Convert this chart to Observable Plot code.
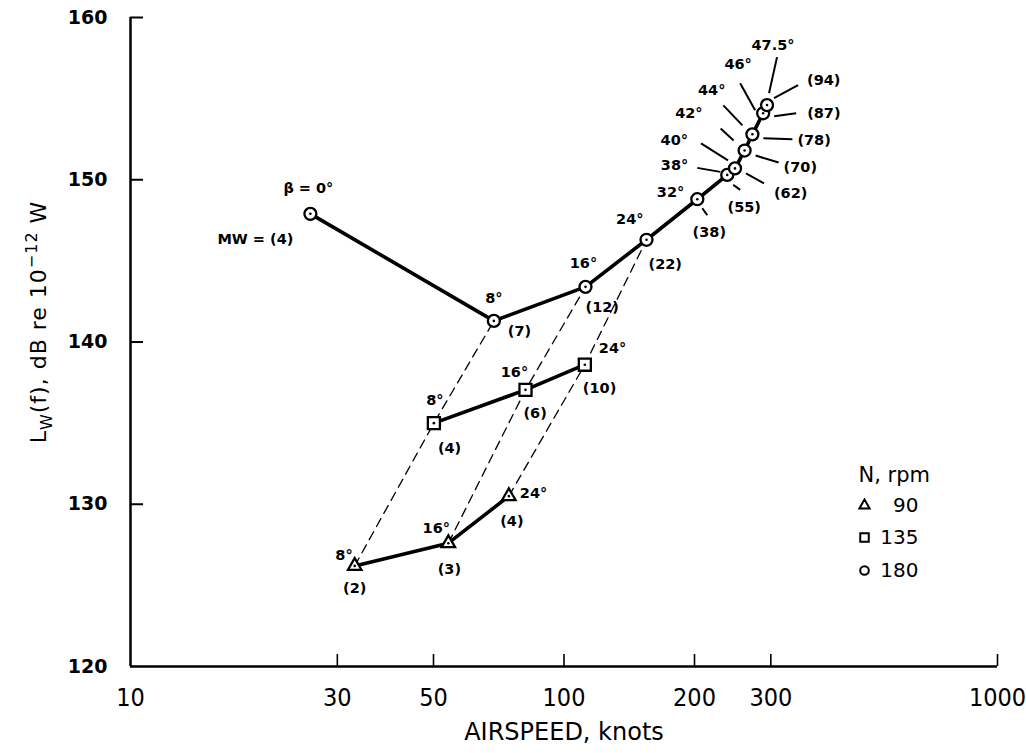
<!DOCTYPE html>
<html><head><meta charset="utf-8">
<script src="https://cdn.jsdelivr.net/npm/d3@7"></script>
<script src="https://cdn.jsdelivr.net/npm/@observablehq/plot@0.6"></script>
<style>
body{margin:0;background:#fff;}
#chart{position:relative;width:1026px;height:753px;}
</style>
</head><body><div id="chart"></div>
<script>
// ---------- data ----------
const circleAirspeed = [26.0, 68.9, 112.1, 155.0, 203, 238, 248, 261, 272, 288, 294];
const circleLw       = [147.9, 141.3, 143.4, 146.3, 148.8, 150.3, 150.7, 151.8, 152.8, 154.1, 154.6];
const circleBeta     = ["β = 0°","8°","16°","24°","32°","38°","40°","42°","44°","46°","47.5°"];
const circleMW       = ["MW = (4)","(7)","(12)","(22)","(38)","(55)","(62)","(70)","(78)","(87)","(94)"];

const squareAirspeed = [50.1, 81.5, 111.7];
const squareLw       = [135.0, 137.05, 138.6];
const squareBeta     = ["8°","16°","24°"];
const squareMW       = ["(4)","(6)","(10)"];

const triAirspeed = [32.9, 54.1, 74.6];
const triLw       = [126.2, 127.6, 130.5];
const triBeta     = ["8°","16°","24°"];
const triMW       = ["(2)","(3)","(4)"];

const rpmValues  = ["90","135","180"];
const xTicks = [10, 30, 50, 100, 200, 300, 1000];
const yTicks = [120, 130, 140, 150, 160];

// ---------- layout ----------
const W = 1026, H = 753, ML = 130, MR = 29, MT = 17, MB = 87;
const frameW = W - ML - MR, frameH = H - MT - MB;

// label offsets in pixels: [dx, dy, anchor]
const circleBetaOff = [[-2,-25,"middle"],[0,-23,"middle"],[-2,-23,"middle"],[-3,-20,"end"],[-13,-7,"end"],
  [-39,-10,"end"],[-47,-28,"end"],[-42,-37,"end"],[-27,-44,"end"],[-25,-49,"middle"],[6,-60,"middle"]];
const circleMWOff = [[-17,26,"end"],[14,10,"start"],[0,21,"start"],[2,25,"start"],[12,33,"middle"],
  [17,32,"middle"],[39,25,"start"],[39,17,"start"],[45,6,"start"],[44,0,"start"],[40,-25,"start"]];
const squareBetaOff = [[1,-23,"middle"],[-11,-18,"middle"],[14,-16,"start"]];
const squareMWOff   = [[4,25,"start"],[-2,23,"start"],[-2,24,"start"]];
const triBetaOff = [[-2,-11,"end"],[-12,-15,"middle"],[11,-3,"start"]];
const triMWOff   = [[0,22,"middle"],[1,26,"middle"],[3,25,"middle"]];
// leader lines for the circle cluster: [pointIndex, x1, y1, x2, y2] pixel offsets
const leaders = [
  [4, 5,9, 10,16],
  [5, -30,-7, -7,-3], [5, 6,10, 13,15],
  [6, -34,-25, -7,-8], [6, 11,5, 29,15],
  [7, -24,-22, -11,-10], [7, 11,5, 34,12],
  [8, -29,-29, -10,-9], [8, 11,4, 40,5],
  [9, -23,-30, -8,-3], [9, 11,3, 33,0],
  [10, 10,-48, 2,-12], [10, 7,-7, 31,-20]
];
// legend pixel positions
const legendPos = {titleX: 858, titleY: 475, symX: 864, textX: 918, rowY: [505, 537, 570]};

// ---------- helpers ----------
const sx = Plot.scale({x: {type: "log", domain: [10, 1000], range: [ML, W - MR]}});
const sy = Plot.scale({y: {type: "linear", domain: [120, 160], range: [H - MB, MT]}});
const shift = (x, y, dx, dy) => [sx.invert(sx.apply(x) + dx), sy.invert(sy.apply(y) + dy)];
const px2 = (X, Y) => [sx.invert(X), sy.invert(Y)];

const mk = (xs, ys, betas, mws) => xs.map((x, i) => ({x, y: ys[i], beta: betas[i], mw: mws[i], i}));
const circles = mk(circleAirspeed, circleLw, circleBeta, circleMW);
const squares = mk(squareAirspeed, squareLw, squareBeta, squareMW);
const tris = mk(triAirspeed, triLw, triBeta, triMW);

const dashed = [];
for (let k = 0; k < 3; k++) {
  dashed.push({g: k, x: tris[k].x, y: tris[k].y});
  dashed.push({g: k, x: squares[k].x, y: squares[k].y});
  dashed.push({g: k, x: circles[k + 1].x, y: circles[k + 1].y});
}

const labels = [];
function addLabels(pts, key, offs) {
  pts.forEach((p, i) => {
    const [dx, dy, a] = offs[i];
    const [lx, ly] = shift(p.x, p.y, dx, dy);
    labels.push({x: lx, y: ly, text: p[key], anchor: a});
  });
}
addLabels(circles, "beta", circleBetaOff); addLabels(circles, "mw", circleMWOff);
addLabels(squares, "beta", squareBetaOff); addLabels(squares, "mw", squareMWOff);
addLabels(tris, "beta", triBetaOff); addLabels(tris, "mw", triMWOff);

const leaderData = leaders.map(([i, a, b, c, d]) => {
  const p = circles[i];
  const [x1, y1] = shift(p.x, p.y, a, b);
  const [x2, y2] = shift(p.x, p.y, c, d);
  return {x1, y1, x2, y2};
});

const legendSymbols = ["triangle", "square", "circle"];
const legendData = rpmValues.map((v, i) => {
  const [sxv, syv] = px2(legendPos.symX, legendPos.rowY[i]);
  const [tx, ty] = px2(legendPos.textX, legendPos.rowY[i]);
  return {label: v, symbol: legendSymbols[i], sx: sxv, sy: syv, tx, ty};
});
const [ltx, lty] = px2(legendPos.titleX, legendPos.titleY);

const font = "'DejaVu Sans', 'Liberation Sans', sans-serif";
const narrow = "'Liberation Sans Narrow', 'DejaVu Sans Condensed', 'Liberation Sans', sans-serif";
const labelText = (anchor) => Plot.text(labels.filter(d => d.anchor === anchor), {
  x: "x", y: "y", text: "text", textAnchor: anchor, fontSize: 14.5, fontWeight: "bold", fill: "black", fontFamily: font
});

const markerStyle = {fill: "white", stroke: "black", strokeWidth: 2.3};

const plot = Plot.plot({
  width: W, height: H,
  marginLeft: ML, marginRight: MR, marginTop: MT, marginBottom: MB,
  x: {type: "log", domain: [10, 1000], axis: null},
  y: {type: "linear", domain: [120, 160], axis: null},
  style: {fontFamily: font, background: "white", color: "black", overflow: "visible"},
  marks: [
    // axes
    Plot.ruleX([10], {stroke: "black", strokeWidth: 2.5}),
    Plot.ruleY([120], {stroke: "black", strokeWidth: 2.5}),
    Plot.tickX(xTicks.filter(d => d > 10), {x: d => d, stroke: "black", strokeWidth: 1.6, insetTop: frameH - 12}),
    Plot.tickY(yTicks.filter(d => d > 120), {y: d => d, stroke: "black", strokeWidth: 2, insetRight: frameW - 13}),
    Plot.axisX(xTicks, {tickSize: 0, tickPadding: 22, tickFormat: d3.format("d"), fontSize: 25, fontFamily: narrow, label: null}),
    Plot.axisY(yTicks, {tickSize: 0, tickPadding: 23, tickFormat: d3.format("d"), fontSize: 19, fontWeight: "bold", fontFamily: font, label: null}),
    Plot.text(["AIRSPEED, knots"], {frameAnchor: "bottom", dy: 73, fontSize: 24, fontFamily: font, fill: "black", letterSpacing: "2px"}),
    // dashed connectors
    Plot.line(dashed, {x: "x", y: "y", z: "g", stroke: "black", strokeWidth: 1.3, strokeDasharray: "9,6"}),
    // solid series
    Plot.line(circles, {x: "x", y: "y", stroke: "black", strokeWidth: 3.6}),
    Plot.line(squares, {x: "x", y: "y", stroke: "black", strokeWidth: 3.6}),
    Plot.line(tris, {x: "x", y: "y", stroke: "black", strokeWidth: 3.6}),
    // leaders
    Plot.link(leaderData, {x1: "x1", y1: "y1", x2: "x2", y2: "y2", stroke: "black", strokeWidth: 2}),
    // markers
    Plot.dot(circles, {x: "x", y: "y", symbol: "circle", r: 6, ...markerStyle}),
    Plot.dot(squares, {x: "x", y: "y", symbol: "square", r: 6.8, ...markerStyle}),
    Plot.dot(tris, {x: "x", y: "y", symbol: "triangle", r: 5, ...markerStyle}),
    Plot.dot([...circles, ...squares, ...tris], {x: "x", y: "y", r: 1.3, fill: "black"}),
    // annotations
    labelText("start"), labelText("middle"), labelText("end"),
    // legend
    Plot.text(["N, rpm"], {x: ltx, y: lty, textAnchor: "start", fontSize: 21, fill: "black", fontFamily: font, letterSpacing: "1.5px"}),
    Plot.dot(legendData.filter(d => d.symbol === "triangle"), {x: "sx", y: "sy", symbol: "triangle", r: 3.8, stroke: "black", strokeWidth: 2, fill: "none"}),
    Plot.dot(legendData.filter(d => d.symbol === "square"), {x: "sx", y: "sy", symbol: "square", r: 4.8, stroke: "black", strokeWidth: 2, fill: "none"}),
    Plot.dot(legendData.filter(d => d.symbol === "circle"), {x: "sx", y: "sy", symbol: "circle", r: 4.3, stroke: "black", strokeWidth: 2, fill: "none"}),
    Plot.text(legendData, {x: "tx", y: "ty", text: "label", textAnchor: "end", fontSize: 20, fill: "black", fontFamily: font})
  ]
});

// y-axis title with subscript / superscript
const svg = d3.select(plot);
const t = svg.append("text")
  .attr("transform", "translate(46,322) rotate(-90)")
  .attr("text-anchor", "middle")
  .attr("font-family", font)
  .attr("font-size", 22)
  .attr("letter-spacing", "1px")
  .attr("fill", "black");
t.append("tspan").text("L");
t.append("tspan").attr("font-size", 16).attr("dy", 6).text("W");
t.append("tspan").attr("dy", -6).text("(f), dB re 10");
t.append("tspan").attr("font-size", 16).attr("dy", -9).text("−12");
t.append("tspan").attr("dy", 9).text(" W");

document.getElementById("chart").appendChild(plot);
</script>
</body></html>
